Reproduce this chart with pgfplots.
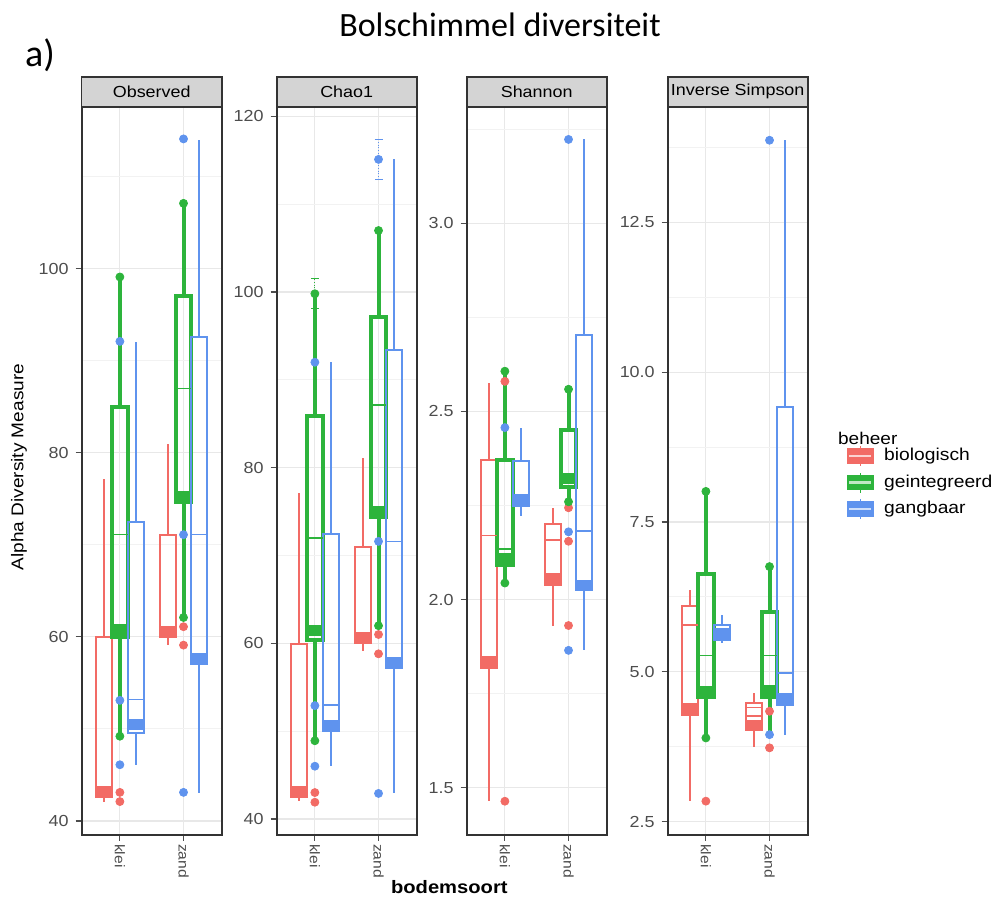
\documentclass[border=0pt]{standalone}
\usepackage{fontspec}
\setmainfont{Liberation Sans}[FakeStretch=1.12]
\newfontfamily\titlefont{Carlito}
\usepackage{pgfplots}
\usepgfplotslibrary{statistics}
\pgfplotsset{compat=1.18}
\definecolor{cR}{HTML}{F26B65}
\definecolor{cG}{HTML}{2DB43C}
\definecolor{cB}{HTML}{5F93EE}
\definecolor{tk}{HTML}{4D4D4D}
\newcommand{\fs}[1]{\fontsize{#1}{#1}\selectfont}
% box: pos, colour, line width, lower whisker, q1, thick bar, q3, upper whisker
\newcommand{\bx}[8]{\addplot[#2, line width=#3, forget plot, boxplot prepared={draw position=#1, lower whisker=#4, lower quartile=#5, median=#6, upper quartile=#7, upper whisker=#8}] coordinates {};}
\newcommand{\thin}[4]{\addplot[#4, line width=0.8pt, forget plot] coordinates {(#1,#3) (#2,#3)};}
\pgfplotsset{
  facet/.style={
    scale only axis, width=70pt, height=364pt,
    xmin=0.4, xmax=2.6,
    xtick={1,2}, xticklabels={klei,zand},
    xticklabel style={rotate=-90, anchor=west, font=\fs{7}, text=tk, inner sep=1.5pt},
    yticklabel style={font=\fs{8}, text=tk},
    /pgf/number format/assume math mode=true,
    tick align=outside, major tick length=3pt, minor tick length=0pt,
    tick style={tk, line width=0.6pt},
    xtick pos=bottom, ytick pos=left,
    grid=both, major grid style={black!9, line width=0.6pt}, minor grid style={black!5, line width=0.4pt},
    axis line style={black!80, line width=0.9pt},
    boxplot/draw direction=y,
    boxplot/box extend=0.25, boxplot/whisker extend=0,
    boxplot/every median/.style={line width=5.5pt},
    every axis title shift=0pt,
    title style={at={(0.5,1)}, anchor=south, yshift=0pt, fill=black!17, draw=black!80, line width=0.8pt,
      minimum width=70pt, minimum height=15pt, inner sep=0pt, outer sep=0pt, font=\fs{8}},
    legend cell align=left,
  },
  pt/.style={only marks, mark=*, mark size=2pt, forget plot},
}
\newcommand{\key}[1]{\addlegendimage{legend image code/.code={\path[draw=#1, fill=#1, line width=0.8pt] (0pt,-3.5pt) rectangle (13pt,3.5pt); \path[draw=white!70!#1, line width=1.2pt] (1pt,0pt)--(12pt,0pt); \path[draw=#1, line width=0.8pt] (6.5pt,3.5pt)--(6.5pt,5pt) (6.5pt,-3.5pt)--(6.5pt,-5pt);}}}
\begin{document}
\begin{tikzpicture}
\path[use as bounding box] (0,0) rectangle (497.5pt,-449.5pt);
\node[font=\titlefont\fs{17}] at (250pt,-12.5pt) {Bolschimmel diversiteit};
\node[font=\titlefont\fs{19}] at (20pt,-27.5pt) {a)};
\node[anchor=west, font=\fs{8.5}] at (415.5pt,-219pt) {beheer};

% ---------- Observed ----------
\begin{axis}[facet, at={(40.85pt,-53.35pt)}, anchor=north west,
  ymin=38.5, ymax=117.6, ytick={40,60,80,100}, minor ytick={50,70,90,110},
  title={Observed},
  ylabel={Alpha Diversity Measure},
  ylabel style={at={(axis description cs:-0.448,0.505)}, anchor=center, font=\fs{8.5}}]
\bx{0.75}{cR}{1pt}{42.1}{42.6}{43.2}{60.0}{77.1}
\bx{1.00}{cG}{2pt}{49.2}{60.0}{60.8}{85.0}{99.1}
\bx{1.25}{cB}{1pt}{46.1}{49.5}{50.5}{72.5}{92.0}
\thin{0.875}{1.125}{71.1}{cG}
\thin{1.125}{1.375}{53.2}{cB}
\bx{1.75}{cR}{1pt}{59.1}{60.0}{60.6}{71.1}{81.0}
\bx{2.00}{cG}{2pt}{62.1}{74.6}{75.2}{97.0}{107.1}
\bx{2.25}{cB}{1pt}{43.0}{57.0}{57.6}{92.6}{114.0}
\thin{1.875}{2.125}{87.0}{cG}
\thin{2.125}{2.375}{71.1}{cB}
\addplot[pt, cR] coordinates {(1,43.1) (1,42.1) (2,61.1) (2,59.1)};
\addplot[pt, cG] coordinates {(1,99.1) (1,49.2) (2,107.1) (2,62.1)};
\addplot[pt, cB] coordinates {(1,92.1) (1,53.1) (1,46.1) (2,114.1) (2,71.1) (2,43.1)};
\end{axis}

% ---------- Chao1 ----------
\begin{axis}[facet, at={(138.35pt,-53.35pt)}, anchor=north west,
  ymin=38.2, ymax=121.1, ytick={40,60,80,100,120}, minor ytick={50,70,90,110},
  title={Chao1},
  xlabel={bodemsoort},
  xlabel style={at={(axis description cs:1.233,-0.0714)}, anchor=center, font=\bfseries\fs{9}}]
\bx{0.75}{cR}{1pt}{42.0}{42.5}{43.1}{59.9}{77.1}
\bx{1.00}{cG}{2pt}{48.9}{60.4}{61.4}{85.9}{99.8}
\bx{1.25}{cB}{1pt}{46.0}{50.0}{50.6}{72.5}{92.0}
\thin{0.875}{1.125}{72.0}{cG}
\thin{1.125}{1.375}{53.0}{cB}
\bx{1.75}{cR}{1pt}{59.1}{60.0}{60.7}{71.0}{81.1}
\bx{2.00}{cG}{2pt}{62.0}{74.4}{75.0}{97.1}{107.0}
\bx{2.25}{cB}{1pt}{42.9}{57.2}{57.8}{93.4}{115.1}
\thin{1.875}{2.125}{87.1}{cG}
\thin{2.125}{2.375}{71.6}{cB}
\addplot[pt, cR] coordinates {(1,43.0) (1,41.9) (2,61.0) (2,58.8)};
\addplot[pt, cG] coordinates {(1,48.9) (2,107.0) (2,62.0)};
\addplot[pt, cB] coordinates {(1,92.0) (1,52.9) (1,46.0) (2,71.6) (2,42.9)};
\addplot[pt, cG, error bars/.cd, y dir=both, y explicit, error bar style={densely dotted, line width=0.6pt}] coordinates {(1,99.8) +- (0,1.7)};
\addplot[pt, cB, error bars/.cd, y dir=both, y explicit, error bar style={densely dotted, line width=0.6pt}] coordinates {(2,115.1) +- (0,2.3)};
\end{axis}

% ---------- Shannon ----------
\begin{axis}[facet, at={(233.35pt,-53.35pt)}, anchor=north west,
  ymin=1.375, ymax=3.31, ytick={1.5,2.0,2.5,3.0}, minor ytick={1.75,2.25,2.75,3.25},
  yticklabel style={/pgf/number format/.cd, fixed, fixed zerofill, precision=1},
  title={Shannon}]
\bx{0.75}{cR}{1pt}{1.464}{1.817}{1.835}{2.372}{2.576}
\bx{1.00}{cG}{2pt}{2.044}{2.093}{2.108}{2.372}{2.607}
\bx{1.25}{cB}{1pt}{2.222}{2.250}{2.265}{2.368}{2.457}
\thin{0.625}{0.875}{2.170}{cR}
\thin{0.875}{1.125}{2.135}{cG}
\bx{1.75}{cR}{1pt}{1.931}{2.040}{2.057}{2.200}{2.244}
\bx{2.00}{cG}{2pt}{2.260}{2.300}{2.322}{2.452}{2.559}
\bx{2.25}{cB}{1pt}{1.865}{2.025}{2.038}{2.702}{3.223}
\thin{1.625}{1.875}{2.158}{cR}
\thin{2.125}{2.375}{2.182}{cB}
\addplot[pt, cR] coordinates {(1,2.58) (1,1.464) (2,2.244) (2,2.155) (2,1.931)};
\addplot[pt, cG] coordinates {(1,2.607) (1,2.044) (2,2.559) (2,2.26)};
\addplot[pt, cB] coordinates {(1,2.457) (2,3.223) (2,2.18) (2,1.865)};
\end{axis}

% ---------- Inverse Simpson ----------
\begin{axis}[facet, at={(333.85pt,-53.35pt)}, anchor=north west,
  ymin=2.28, ymax=14.43, ytick={2.5,5.0,7.5,10.0,12.5}, minor ytick={3.75,6.25,8.75,11.25,13.75},
  yticklabel style={/pgf/number format/.cd, fixed, fixed zerofill, precision=1},
  title={Inverse Simpson},
  legend style={at={(1.275,0.5355)}, anchor=north west, draw=none, font=\fs{8.6},
    row sep=2.5pt, inner sep=0pt, nodes={inner xsep=5pt, inner ysep=0pt}}]
\bx{0.75}{cR}{1pt}{2.84}{4.28}{4.385}{6.09}{6.37}
\bx{1.00}{cG}{2pt}{3.895}{4.58}{4.67}{6.63}{8.01}
\bx{1.25}{cB}{1pt}{5.48}{5.53}{5.64}{5.78}{5.95}
\thin{0.625}{0.875}{5.78}{cR}
\thin{0.875}{1.125}{5.27}{cG}
\bx{1.75}{cR}{1pt}{3.745}{4.02}{4.11}{4.48}{4.64}
\bx{2.00}{cG}{2pt}{3.95}{4.58}{4.68}{6.005}{6.755}
\bx{2.25}{cB}{1pt}{3.95}{4.45}{4.55}{9.42}{13.87}
\thin{1.625}{1.875}{4.26}{cR}
\thin{1.625}{1.875}{4.40}{cR}
\thin{1.875}{2.125}{5.27}{cG}
\thin{2.125}{2.375}{4.98}{cB}
\addplot[pt, cR] coordinates {(1,2.84) (2,4.34) (2,3.73)};
\addplot[pt, cG] coordinates {(1,8.01) (1,3.895) (2,6.755)};
\addplot[pt, cB] coordinates {(2,13.87) (2,3.95)};
\key{cR}
\addlegendentry{biologisch}
\key{cG}
\addlegendentry{geintegreerd}
\key{cB}
\addlegendentry{gangbaar}
\end{axis}
\end{tikzpicture}
\end{document}
